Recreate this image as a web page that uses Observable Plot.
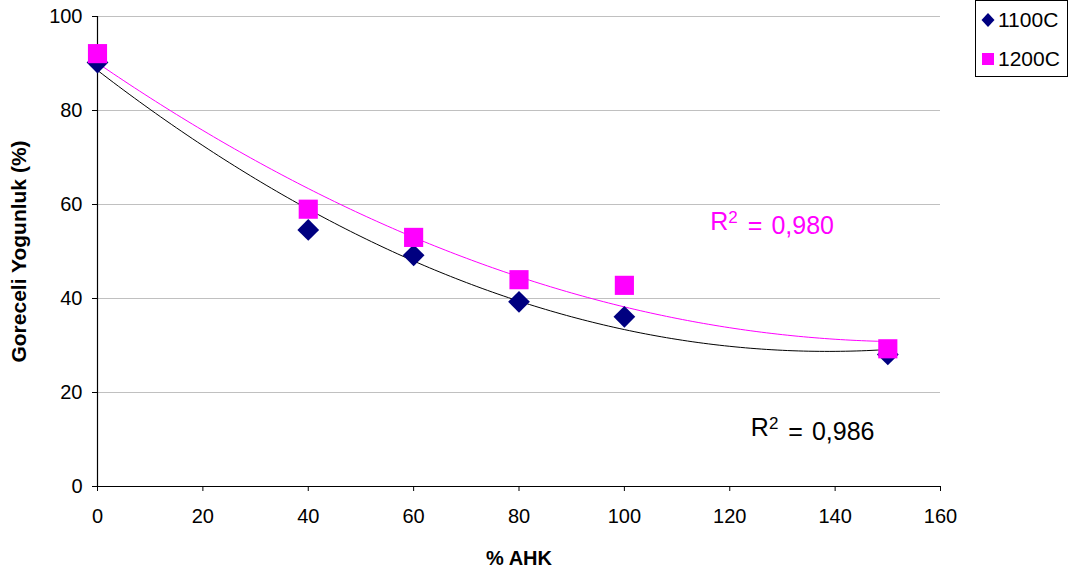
<!DOCTYPE html>
<html>
<head>
<meta charset="utf-8">
<script src="https://cdn.jsdelivr.net/npm/d3@7"></script>
<script src="https://cdn.jsdelivr.net/npm/@observablehq/plot@0.6"></script>
<style>
  body { margin: 0; background: #fff; font-family: "Liberation Sans", Arial, sans-serif; }
  #wrap { position: relative; width: 1075px; height: 577px; }
  #legend { position: absolute; left: 975px; top: 0px; width: 93px; height: 77px; border: 1px solid #000; box-sizing: border-box; background: #fff; font-size: 21px; }
  #legend .row { position: absolute; left: 3px; display: flex; align-items: center; height: 24px; }
  #legend svg { margin-right: 3px; }
</style>
</head>
<body>
<div id="wrap"></div>
<script>
// Data
const ahk = [0, 40, 60, 80, 100, 150];
const dens1100 = [90.2, 54.6, 49.2, 39.3, 36.1, 28.1];
const dens1200 = [92.1, 59.0, 53.0, 44.0, 42.8, 29.3];
const seriesNames = ["1100C", "1200C"];
const r2Values = ["0,986", "0,980"];
const xTicks = [0, 20, 40, 60, 80, 100, 120, 140, 160];
const yTicks = [0, 20, 40, 60, 80, 100];

// 2nd-order polynomial least-squares fit (as the spreadsheet trendline)
function polyFit2(xs, ys) {
  const n = xs.length;
  let s = [0,0,0,0,0], t = [0,0,0];
  for (let i = 0; i < n; i++) {
    const x = xs[i], y = ys[i];
    for (let k = 0; k < 5; k++) s[k] += Math.pow(x, k);
    for (let k = 0; k < 3; k++) t[k] += y * Math.pow(x, k);
  }
  const A = [[s[0], s[1], s[2], t[0]], [s[1], s[2], s[3], t[1]], [s[2], s[3], s[4], t[2]]];
  for (let i = 0; i < 3; i++) {
    for (let j = i + 1; j < 3; j++) {
      const f = A[j][i] / A[i][i];
      for (let k = i; k < 4; k++) A[j][k] -= f * A[i][k];
    }
  }
  const c = [0,0,0];
  for (let i = 2; i >= 0; i--) {
    let v = A[i][3];
    for (let k = i + 1; k < 3; k++) v -= A[i][k] * c[k];
    c[i] = v / A[i][i];
  }
  return x => c[0] + c[1] * x + c[2] * x * x;
}

const pts = [];
ahk.forEach((x, i) => {
  pts.push({x, y: dens1100[i], s: seriesNames[0]});
  pts.push({x, y: dens1200[i], s: seriesNames[1]});
});
const f1100 = polyFit2(ahk, dens1100);
const f1200 = polyFit2(ahk, dens1200);
const xsFit = d3.range(ahk[0], ahk[ahk.length - 1] + 0.5, 1);
const fit1100 = xsFit.map(x => ({x, y: f1100(x)}));
const fit1200 = xsFit.map(x => ({x, y: f1200(x)}));

const chart = Plot.plot({
  width: 1075,
  height: 577,
  marginLeft: 97,
  marginRight: 135,
  marginTop: 16,
  marginBottom: 91,
  style: { fontFamily: "'Liberation Sans', Arial, sans-serif", fontSize: "20px", background: "#fff", overflow: "visible" },
  x: { domain: [0, 160] },
  y: { domain: [0, 100] },
  marks: [
    Plot.gridY(yTicks.filter(d => d > 0), { stroke: "#c0c0c0", strokeOpacity: 1, strokeWidth: 1 }),
    Plot.axisX(xTicks, { tickSize: 5, tickPadding: 17, label: "% AHK", labelAnchor: "center", labelArrow: "none", labelOffset: 78, stroke: "#000" }),
    Plot.axisY(yTicks, { tickSize: 5, tickPadding: 10, label: "Goreceli Yogunluk (%)", labelAnchor: "center", labelArrow: "none", labelOffset: 86, stroke: "#000" }),
    Plot.ruleY([0], { stroke: "#000", strokeWidth: 1.2 }),
    Plot.ruleX([0], { stroke: "#000", strokeWidth: 1.2 }),
    Plot.line(fit1100, { x: "x", y: "y", stroke: "#000", strokeWidth: 1 }),
    Plot.line(fit1200, { x: "x", y: "y", stroke: "#ff00ff", strokeWidth: 1 }),
    Plot.dot(pts.filter(d => d.s === seriesNames[0]), { x: "x", y: "y", symbol: "diamond2", r: 9.8, fill: "#000080", stroke: "none" }),
    Plot.dot(pts.filter(d => d.s === seriesNames[1]), { x: "x", y: "y", symbol: "square", r: 10.8, fill: "#ff00ff", stroke: "none" }),
    Plot.text([r2Values[1]], { x: 116.3, y: 56.2, text: d => "R2 = " + d, textAnchor: "start", fill: "#ff00ff", fontSize: 25, className: "r2" }),
    Plot.text([r2Values[0]], { x: 124.0, y: 12.4, text: d => "R2 = " + d, textAnchor: "start", fill: "#000", fontSize: 25, className: "r2" })
  ]
});
const svg = d3.select(chart);
// tick label sizes
svg.selectAll("g[aria-label='x-axis tick label'], g[aria-label='y-axis tick label']").attr("font-size", 20);
// bold axis labels
svg.select("g[aria-label='x-axis label']").attr("font-size", 20).attr("font-weight", "bold");
svg.select("g[aria-label='y-axis label']").attr("font-size", 21).attr("font-weight", "bold");
// superscript 2 in R² labels
svg.selectAll(".r2 text").each(function() {
  const t = d3.select(this);
  const val = t.text().replace("R2 = ", "");
  t.text("");
  t.append("tspan").text("R");
  t.append("tspan").attr("dy", "-0.45em").attr("font-size", 17).text("2");
  t.append("tspan").attr("dy", "0.45em").attr("dx", 3).text("=").attr("dx", 10);
  t.append("tspan").attr("dx", 9).text(val);
});

const wrap = document.getElementById("wrap");
wrap.appendChild(chart);

// legend
const legend = document.createElement("div");
legend.id = "legend";
const legendItems = [
  { name: seriesNames[0], sym: "diamond2", color: "#000080", top: 7 },
  { name: seriesNames[1], sym: "square", color: "#ff00ff", top: 46 }
];
legendItems.forEach(it => {
  const row = document.createElement("div");
  row.className = "row";
  row.style.top = it.top + "px";
  const shape = it.sym === "square"
    ? `<svg width="16" height="20"><rect x="3" y="4" width="12" height="12" fill="${it.color}"/></svg>`
    : `<svg width="16" height="20"><path d="M9,3 L15.5,10 L9,17 L2.5,10 Z" fill="${it.color}"/></svg>`;
  row.innerHTML = shape + `<span>${it.name}</span>`;
  legend.appendChild(row);
});
wrap.appendChild(legend);
</script>
</body>
</html>
